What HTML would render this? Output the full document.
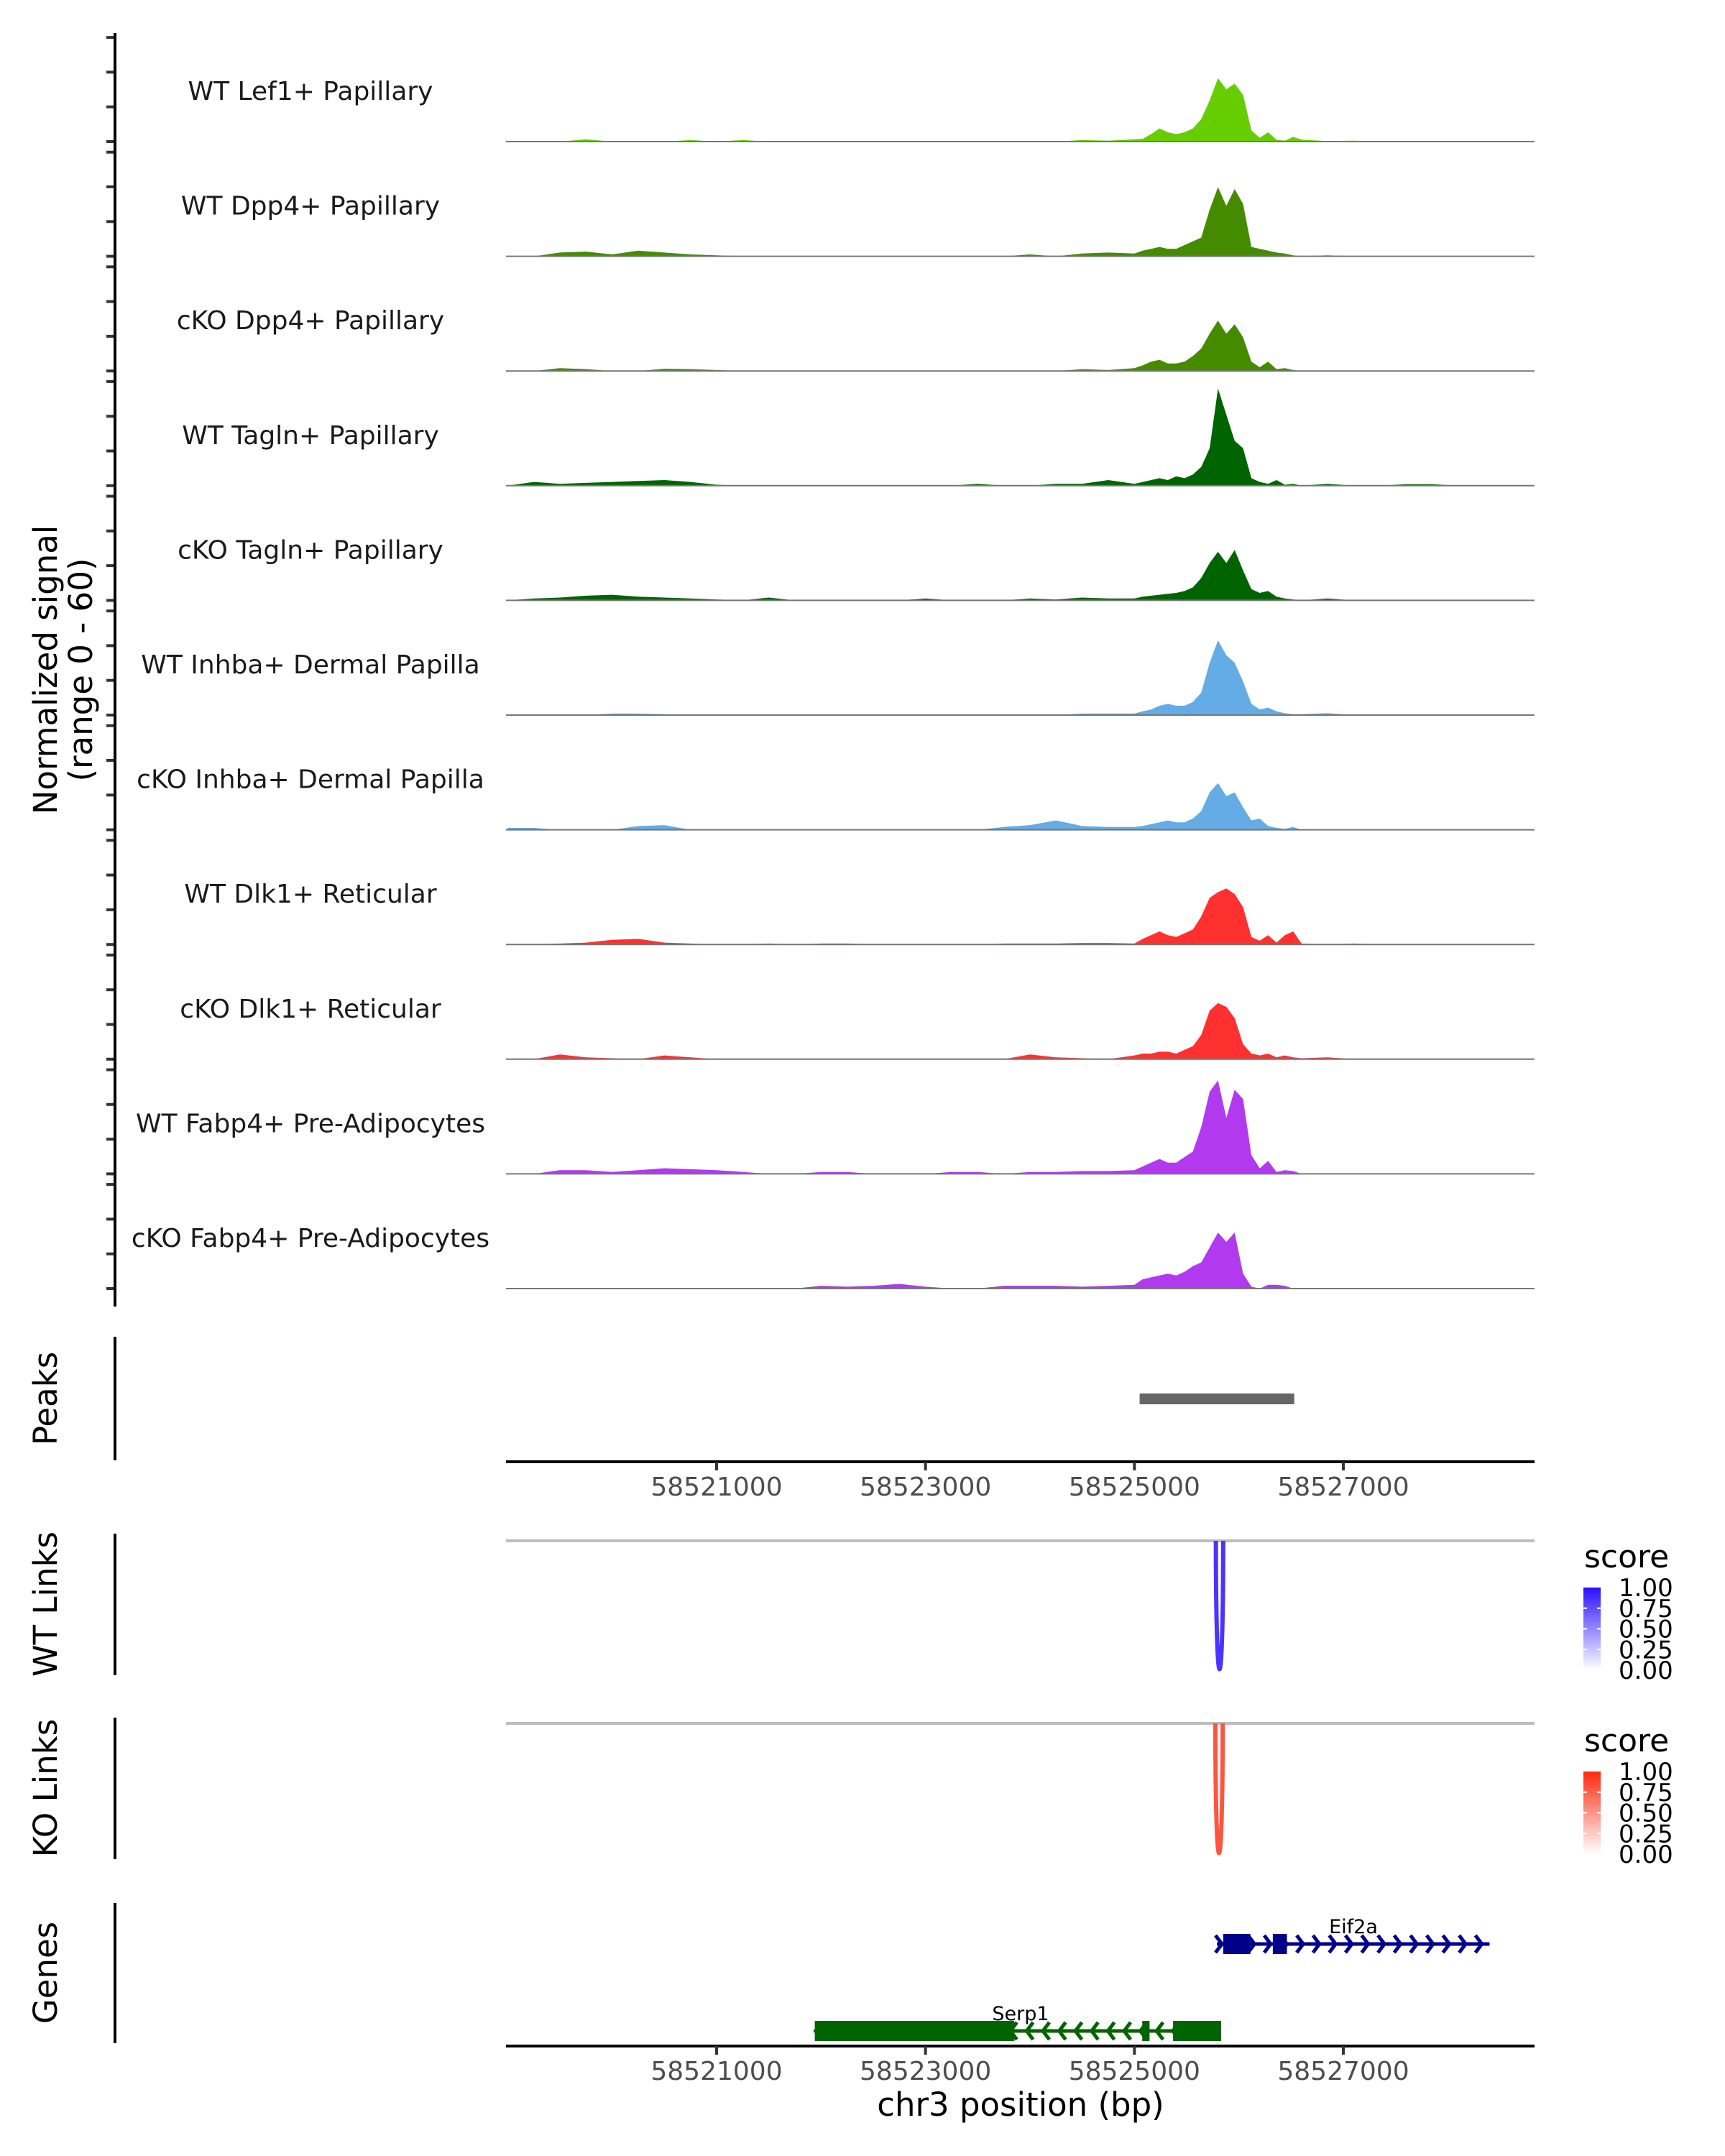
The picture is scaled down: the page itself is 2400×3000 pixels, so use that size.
<!DOCTYPE html>
<html><head><meta charset="utf-8">
<style>
html,body{margin:0;padding:0;background:#fff;}
svg{display:block;font-family:"DejaVu Sans","Liberation Sans",sans-serif;}
</style></head>
<body>
<svg id="chart" xmlns="http://www.w3.org/2000/svg" width="2400" height="3000" viewBox="0 0 2400 3000">
<g id="tracks"></g>
<g id="axes"></g>
<g id="links"></g>
<g id="genes"></g>
</svg>
<script>
// ---- data ----
const BASE_BP = 58519000;
const binOffsets = [0,250,500,750,1000,1250,1500,1750,2000,2250,2500,2750,3000,3250,3500,3750,4000,4250,4500,4750,5000,5250,5500,5750,6000,
 6080,6160,6240,6320,6400,6480,6560,6640,6720,6800,6880,6960,7040,7120,7200,7280,7360,7440,7520,7600,
 7850,8100,8350,8600,8850,9100,9350,9600,9800];
const trackNames = ["WT Lef1+ Papillary","WT Dpp4+ Papillary","cKO Dpp4+ Papillary","WT Tagln+ Papillary","cKO Tagln+ Papillary","WT Inhba+ Dermal Papilla","cKO Inhba+ Dermal Papilla","WT Dlk1+ Reticular","cKO Dlk1+ Reticular","WT Fabp4+ Pre-Adipocytes","cKO Fabp4+ Pre-Adipocytes"];
const trackColors = ["#66CD00","#458B00","#458B00","#006400","#006400","#63ACE5","#63ACE5","#FF3030","#FF3030","#B23AEE","#B23AEE"];
const sigLef1WT = [0,0,0,1.2,0,0,0,0.8,0,0.8,0,0,0,0,0,0,0,0,0,0,0,0,0.8,0.5,1.2, 1.5,4,7,5,4,5,7,12,22,34,28,31,25,6,2,5,1,0.5,2.5,1, 0.3,0.5,0,0,0,0,0,0,0];
const sigDpp4WT = [0,0,2,2.5,1,3,2,1,0.5,0,0,0,0,0,0,0,0,0,0,0,1,0,1.5,2,1.5, 3,4,5,4,4,6,8,10,25,37,27,36,28,5,4,3,2,1.5,0.5,0, 0.5,0,0,0,0,0,0,0,0];
const sigDpp4KO = [0,0,1.5,1,0,0,1.2,1,0.5,0,0,0,0,0,0,0,0,0,0,0,0,0,1,0.5,1.5, 3,5,6,4,4,5,8,12,20,27,20,25,18,5,2,5,1,1.5,0.5,0, 0,0,0,0,0,0,0,0,0];
const sigTaglnWT = [0,2,1,1.5,2,2.5,3,2,0.5,0,0,0,0,0,0,0,0,0,1,0,0,1,1,3,1, 2,3,4,3,5,4,6,10,20,52,38,24,20,4,2,1,3,0.5,1,0, 1,0,0,0.8,0.8,0,0,0,0];
const sigTaglnKO = [0,1,1.5,2.5,3,2,1.5,1,0.5,0,1.5,0,0,0,0,0,1,0,0,0,1,0.5,1.5,1,1, 2,2.5,3,3.5,4,5,7,12,20,26,20,27,16,6,4,5,2,1,0.5,0, 1,0,0,0,0,0,0,0,0];
const sigInhbaWT = [0,0,0,0,0.8,0.8,0.5,0,0,0,0,0,0,0,0,0,0,0,0,0,0,0,0.8,0.8,0.8, 2,3,5,6,5,5,7,12,28,40,32,28,18,6,3,4,2,1,0.5,0.5, 1,0,0,0,0,0,0,0,0];
const sigInhbaKO = [1,1,0,0,0,2,2.5,0,0,0,0,0,0,0,0,0,0,0,0,1.5,2.5,5,2,1.5,1.5, 2,3,4,5,4,4,6,10,20,25,18,20,12,5,6,2,1,0.5,1.5,0, 0,0,0,0,0,0,0,0,0];
const sigDlk1WT = [0,0,0.5,1,2.5,3,1,0.5,0,0,0.5,0,0.5,0.5,0,0,0,0,0,0.5,0.5,0.5,0.8,0.8,0.5, 3,5,7,5,4,6,8,15,25,28,30,27,20,4,2,5,1,5,7,0.5, 0,0.5,0,0,0,0,0,0,0];
const sigDlk1KO = [0,0,2.5,1,0.5,0,2,1,0,0,0,0,0,0,0,0,0,0,0,0,2.5,1,0.5,0,2, 3,3,4,4,3,5,7,13,26,30,28,22,8,3,2,3,1,2,1,0.5, 1,0,0,0,0,0,0,0,0];
const sigFabp4WT = [0,0,2,2,1,2,3,2.5,2,1,0,0,1,1,0,0,0,1,1,0,1,1,1.5,1.5,2, 4,6,8,6,6,9,12,25,44,50,30,45,40,10,3,7,1,2,1.5,0, 0,0,0,0,0,0,0,0,0];
const sigFabp4KO = [0,0,0,0,0,0,0,0,0,0,0,0,1.5,1,1.5,2.5,1,0,0,1.5,1.5,1.5,1,1.5,2, 5,6,7,8,7,9,12,14,22,30,25,30,8,1,0,2,2,1.5,0,0, 0,0,0,0,0,0,0,0,0];
const allSignals = [sigLef1WT,sigDpp4WT,sigDpp4KO,sigTaglnWT,sigTaglnKO,sigInhbaWT,sigInhbaKO,sigDlk1WT,sigDlk1KO,sigFabp4WT,sigFabp4KO];
const xTicks = [58521000,58523000,58525000,58527000];
const xTickLabels = ["58521000","58523000","58525000","58527000"];
const peakStarts = [58525050];
const peakEnds = [58526530];
const wtLinkStart = [58525780]; const wtLinkEnd = [58525850]; const wtLinkScore = [0.85];
const koLinkStart = [58525775]; const koLinkEnd = [58525845]; const koLinkScore = [0.8];
const legendTicks = ["1.00","0.75","0.50","0.25","0.00"];

// ---- scales ----
const NS = "http://www.w3.org/2000/svg";
const X0 = 704, X1 = 2135;
function xs(bp){ return 997 + (bp - 58521000) * 0.14533; }
const BASE0 = 197, STEP = 159.6, PXU = 2.6;
function ys(i, v){ return BASE0 + i*STEP - v*PXU; }
function mk(tag, attrs, parent){ const e=document.createElementNS(NS,tag); for(const k in attrs) e.setAttribute(k,attrs[k]); parent.appendChild(e); return e; }
const gT = document.getElementById('tracks'), gA = document.getElementById('axes'), gL=document.getElementById('links'), gG=document.getElementById('genes');

allSignals.forEach((sig,i)=>{
  const base = BASE0 + i*STEP;
  let d = "M"+xs(BASE_BP+binOffsets[0]).toFixed(1)+","+base;
  sig.forEach((v,j)=>{ d += " L"+xs(BASE_BP+binOffsets[j]).toFixed(1)+","+ys(i,v).toFixed(1); });
  d += " L"+xs(BASE_BP+binOffsets[binOffsets.length-1]).toFixed(1)+","+base+" Z";
  const p = mk('path',{d:d,fill:trackColors[i]},gT);
  
  
  const bl = mk('line',{x1:X0,x2:X1,y1:base,y2:base,stroke:'#777',"stroke-width":2},gT);
  
  
  const t = mk('text',{x:432,y:base-58,"font-size":36,"text-anchor":"middle",fill:"#1a1a1a"},gT);
  t.textContent = trackNames[i];
  
  
  for(let k=0;k<4;k++){
    const ty = base - k*48.3;
    const tk = mk('line',{x1:148,x2:160,y1:ty,y2:ty,stroke:'#333',"stroke-width":4},gA);
    
    
  }
});
[[46,1818],[1860,2032],[2134,2331],[2390,2587],[2648,2843]].forEach(r=>{
  const l = mk('line',{x1:160,x2:160,y1:r[0],y2:r[1],stroke:'#000',"stroke-width":4},gA);
  
  
});
function vtitle(txt, cx, cy, name){
  const t = mk('text',{x:cx,y:cy,"font-size":45,"text-anchor":"middle",transform:"rotate(-90 "+cx+" "+cy+")",fill:"#000"},gA);
  t.textContent = txt;
  
  
}
vtitle("Normalized signal",79,932,"y-axis-title");
vtitle("(range 0 - 60)",128,932,"y-axis-subtitle");
vtitle("Peaks",79,1946,"peaks-title");
vtitle("WT Links",79,2232,"wt-links-title");
vtitle("KO Links",79,2488,"ko-links-title");
vtitle("Genes",79,2745,"genes-title");
peakStarts.forEach((s,i)=>{
  const r = mk('rect',{x:xs(s),y:1939,width:xs(peakEnds[i])-xs(s),height:15,fill:'#666'},gA);
  
  
});
function xaxis(y, name){
  const l = mk('line',{x1:X0,x2:X1,y1:y,y2:y,stroke:'#000',"stroke-width":4},gA);
  
  
  xTicks.forEach((b,i)=>{
    const tk = mk('line',{x1:xs(b),x2:xs(b),y1:y,y2:y+12,stroke:'#333',"stroke-width":4},gA);
    
    
    const t = mk('text',{x:xs(b),y:y+47,"font-size":36,"text-anchor":"middle",fill:"#4d4d4d"},gA);
    t.textContent = xTickLabels[i];
    
    
  });
}
xaxis(2034,'peaks-x-axis');
xaxis(2847,'genes-x-axis');
const xt = mk('text',{x:1420,y:2944,"font-size":45,"text-anchor":"middle",fill:"#000"},gA);
xt.textContent = "chr3 position (bp)";



function linkPanel(top, bottom, starts, ends, scores, hi, lgTop, prefix){
  const gl = mk('line',{x1:X0,x2:X1,y1:top,y2:top,stroke:'#bdbdbd',"stroke-width":4},gL);
  
  
  starts.forEach((s,i)=>{
    const a=xs(s), b=xs(ends[i]), depth=bottom-top;
    const col = mix(hi, scores[i]);
    const p = mk('path',{d:"M"+a+","+top+" C"+a+","+(top+depth*1.33)+" "+b+","+(top+depth*1.33)+" "+b+","+top,fill:'none',stroke:col,"stroke-width":6},gL);
    
    
  });
  const gid = prefix+'grad';
  const defs = mk('defs',{},gL);
  const lg = mk('linearGradient',{id:gid,x1:0,y1:1,x2:0,y2:0},defs);
  mk('stop',{offset:0,"stop-color":"#ffffff"},lg);
  mk('stop',{offset:1,"stop-color":hi},lg);
  const st = mk('text',{x:2204,y:lgTop-28,"font-size":44,fill:"#000"},gL);
  st.textContent = "score";
  
  
  const bar = mk('rect',{x:2203,y:lgTop,width:24,height:115,fill:"url(#"+gid+")"},gL);
  
  
  legendTicks.forEach((lab,k)=>{
    const y = lgTop + k*115/4;
    if(k>0 && k<4){ mk('line',{x1:2203,x2:2208,y1:y,y2:y,stroke:'#fff',"stroke-width":2},gL); mk('line',{x1:2222,x2:2227,y1:y,y2:y,stroke:'#fff',"stroke-width":2},gL); }
    const t = mk('text',{x:2252,y:y+12,"font-size":34,fill:"#000"},gL);
    t.textContent = lab;
    
    
  });
}
function mix(hex, s){
  const r=parseInt(hex.substr(1,2),16), g=parseInt(hex.substr(3,2),16), b=parseInt(hex.substr(5,2),16);
  const f=c=>Math.round(255+(c-255)*s);
  return "rgb("+f(r)+","+f(g)+","+f(b)+")";
}
linkPanel(2144,2323,wtLinkStart,wtLinkEnd,wtLinkScore,"#2a10ff",2209,'wt');
linkPanel(2398,2579,koLinkStart,koLinkEnd,koLinkScore,"#ff2a10",2465,'ko');

function gene(name, y, start, end, exons, color, dir, labelX, labelY){
  const g = mk('g',{},gG);
  
  
  mk('line',{x1:xs(start),x2:xs(end),y1:y,y2:y,stroke:color,"stroke-width":5},g);
  for(let x=xs(start)+4; x<=xs(end)+1; x+=22.6){
    const d = dir>0 ? "M"+(x-6)+","+(y-12)+" L"+(x+3)+","+y+" L"+(x-6)+","+(y+12)
                    : "M"+(x+6)+","+(y-12)+" L"+(x-3)+","+y+" L"+(x+6)+","+(y+12);
    mk('path',{d:d,fill:'none',stroke:color,"stroke-width":5},g);
  }
  exons.forEach(e=>{ mk('rect',{x:xs(e[0]),y:y-14,width:xs(e[1])-xs(e[0]),height:28,fill:color},g); });
  const t = mk('text',{x:labelX,y:labelY,"font-size":27,"text-anchor":"middle",fill:"#000"},g);
  t.textContent = name;
}
const eif2aStart=58525790, eif2aEnd=58528400;
const eif2aExons=[[58525850,58526110],[58526325,58526460]];
const serp1Start=58521940, serp1End=58525830;
const serp1Exons=[[58521940,58523850],[58525075,58525145],[58525370,58525830]];
gene("Eif2a",2705,eif2aStart,eif2aEnd,eif2aExons,"#00008B",1,1883,2690);
gene("Serp1",2826,serp1Start,serp1End,serp1Exons,"#006400",-1,1420,2811);
</script>
</body></html>
